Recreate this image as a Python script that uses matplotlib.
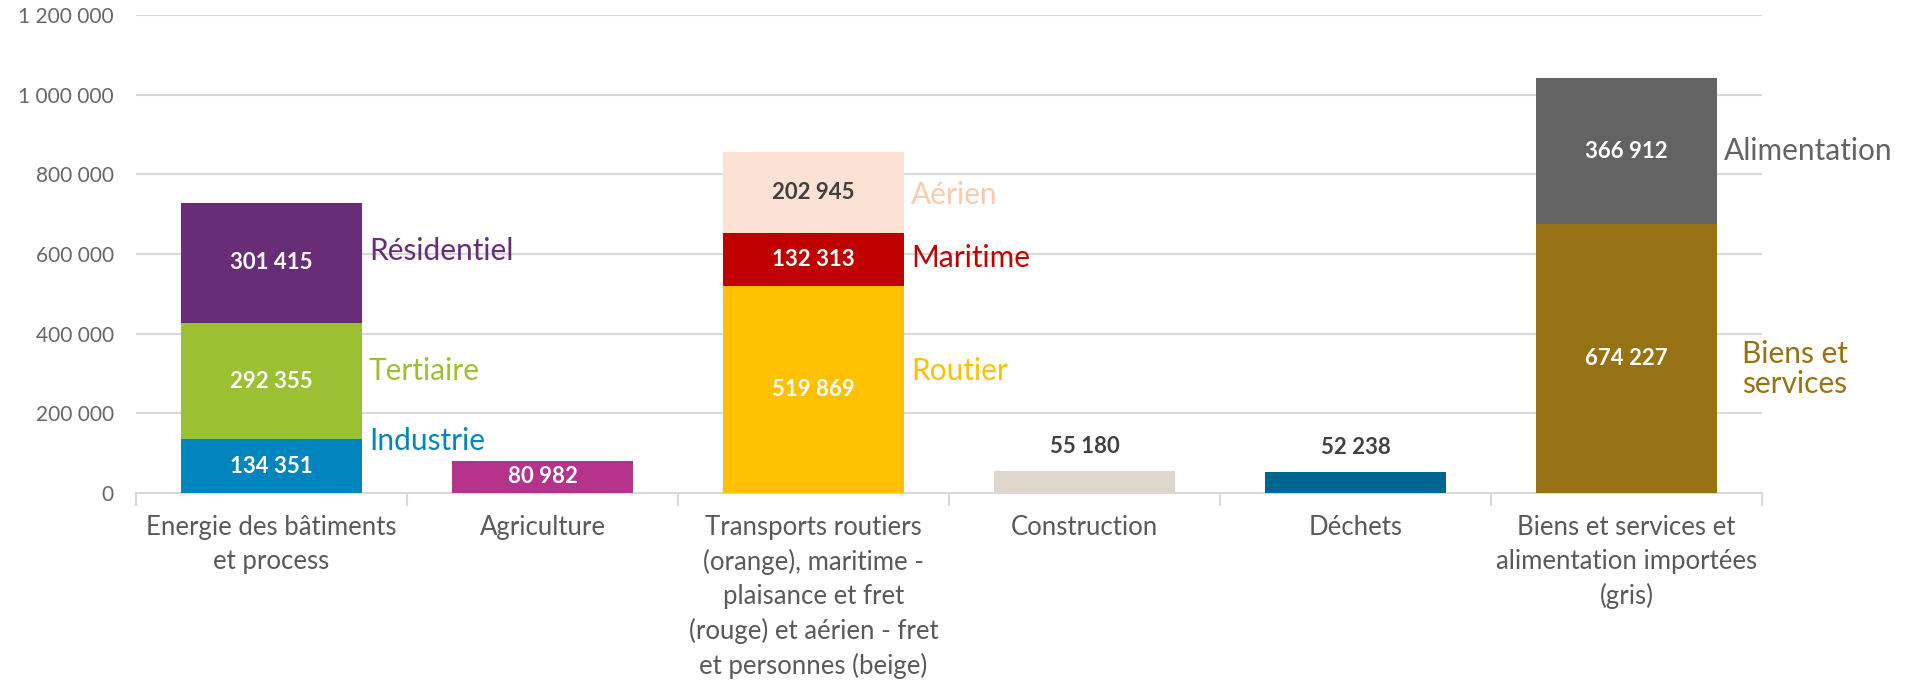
import matplotlib
matplotlib.use("Agg")
import matplotlib.pyplot as plt
from matplotlib import font_manager as fm
import numpy as np

# ---------------- data ----------------
categories = [
    "Energie des bâtiments\net process",
    "Agriculture",
    "Transports routiers\n(orange), maritime -\nplaisance et fret\n(rouge) et aérien - fret\net personnes (beige)",
    "Construction",
    "Déchets",
    "Biens et services et\nalimentation importées\n(gris)",
]
seg_names = ["Industrie", "Tertiaire", "Résidentiel", "Agriculture",
             "Routier", "Maritime", "Aérien", "Construction", "Déchets",
             "Biens et\nservices", "Alimentation"]
seg_category = [0, 0, 0, 1, 2, 2, 2, 3, 4, 5, 5]
seg_values = [134351, 292355, 301415, 80982, 519869, 132313, 202945,
              55180, 52238, 674227, 366912]
seg_colors = ["#0085BF", "#9BC031", "#672D77", "#B5338A", "#FFC000",
              "#C00000", "#FBE2D5", "#DFD7CB", "#00658F", "#977214", "#636363"]
# series name shown beside the bar (None = none), and its height (data units)
seg_show_name = [True, True, True, False, True, True, True, False, False, True, True]
seg_name_y = [130000, 306000, 607000, None, 306000, 590000, 748000, None, None, 311000, 859000]
seg_name_colors = ["#0085BF", "#9BC031", "#672D77", None, "#FFC000",
                   "#C00000", "#F8CBAD", None, None, "#977214", "#636363"]
# value label style: 'in' white, 'in_dark', 'above'
seg_value_pos = ["in", "in", "in", "in", "in", "in", "in_dark", "above", "above", "in", "in"]
yticks = [0, 200000, 400000, 600000, 800000, 1000000, 1200000]

# ---------------- fonts ----------------
avail = {f.name for f in fm.fontManager.ttflist}
num_font = "Lato" if "Lato" in avail else "DejaVu Sans"
cat_font = num_font

def fmt(v):
    return f"{v:,}".replace(",", " ")

# ---------------- figure ----------------
fig = plt.figure(figsize=(19.09, 6.81), dpi=100)
ax = fig.add_axes([136 / 1909, 1 - 493 / 681, (1762 - 136) / 1909, (493 - 15) / 681])

x = np.arange(len(categories))
bar_w = 0.667
bottoms = [0.0] * len(categories)
for i, v in enumerate(seg_values):
    c = seg_category[i]
    b = bottoms[c]
    ax.bar(x[c], v, bottom=b, width=bar_w, color=seg_colors[i], zorder=3)
    mid = b + v / 2
    if seg_value_pos[i] == "in":
        ax.text(x[c], mid, fmt(v), ha="center", va="center", color="white",
                fontsize=16, fontweight="bold", family=num_font, zorder=4)
    elif seg_value_pos[i] == "in_dark":
        ax.text(x[c], mid, fmt(v), ha="center", va="center", color="#404040",
                fontsize=16, fontweight="bold", family=num_font, zorder=4)
    else:
        ax.annotate(fmt(v), (x[c], b + v), xytext=(0, 18), textcoords="offset points",
                    ha="center", va="center", color="#404040",
                    fontsize=16, fontweight="bold", family=num_font, zorder=4)
    if seg_show_name[i]:
        dx = 18 if "\n" in seg_names[i] else 5
        ax.annotate(seg_names[i], (x[c] + bar_w / 2, seg_name_y[i]),
                    xytext=(dx, 0), textcoords="offset points",
                    ha="left", va="center", color=seg_name_colors[i],
                    fontsize=21.5, family=num_font, linespacing=1.1,
                    annotation_clip=False)
    bottoms[c] = b + v

ax.set_xlim(-0.5, len(categories) - 0.5)
ax.set_ylim(0, 1200000)
ax.set_yticks(yticks)
ax.set_yticklabels([fmt(t) for t in yticks], family=num_font, fontsize=15, color="#666666")
ax.tick_params(axis="y", length=0, pad=16)
ax.yaxis.grid(True, color="#D9D9D9", linewidth=1.5, zorder=0)
ax.set_axisbelow(True)

ax.set_xticks(np.arange(len(categories) + 1) - 0.5)
ax.set_xticklabels([])
ax.tick_params(axis="x", which="major", length=9, width=1.5, color="#D9D9D9")
ax.set_xticks(x, minor=True)
ax.set_xticklabels(categories, minor=True, family=cat_font, fontsize=18.5,
                   color="#595959", linespacing=1.42, va="top")
ax.tick_params(axis="x", which="minor", length=0, pad=16)

for s in ["top", "right", "left"]:
    ax.spines[s].set_visible(False)
ax.spines["bottom"].set_color("#D9D9D9")
ax.spines["bottom"].set_linewidth(1.5)

fig.savefig("out.png", dpi=100)
